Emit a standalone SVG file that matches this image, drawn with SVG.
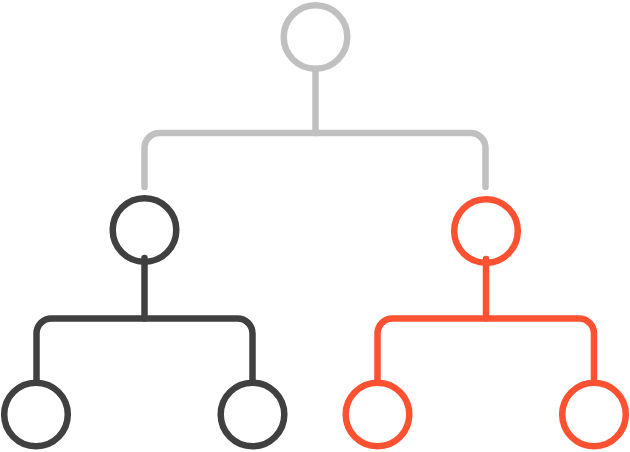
<svg xmlns="http://www.w3.org/2000/svg" width="630" height="452" viewBox="0 0 630 452">
<style>
.n{fill:none;stroke-width:6.5}
.c{fill:none;stroke-width:6.5;stroke-linecap:round;stroke-linejoin:round}
.g{stroke:#c0c0c0}
.d{stroke:#404040}
.o{stroke:#fe5131}
</style>
<rect width="630" height="452" fill="#fff"/>
<g id="connectors">
<path class="c g" d="M315.5,69 V133"/>
<path class="c g" d="M144.5,187 V148 A15,15 0 0 1 159.5,133 H470.5 A15,15 0 0 1 485.5,148 V187"/>
<path class="c d" d="M144.5,258 V318.5"/>
<path class="c d" d="M36.5,382 V333.5 A15,15 0 0 1 51.5,318.5 H237.5 A15,15 0 0 1 252.5,333.5 V382"/>
<path class="c o" d="M486,259 V318.5"/>
<path class="c o" d="M377.5,382 V333.5 A15,15 0 0 1 392.5,318.5 H579 A15,15 0 0 1 594,333.5 V382"/>
</g>
<g id="root"><circle class="n g" cx="315.5" cy="37" r="31.8"/></g>
<g id="left"><circle class="n d" cx="144.5" cy="230" r="31.8"/></g>
<g id="right"><circle class="n o" cx="486" cy="231" r="31.8"/></g>
<g id="left-left"><circle class="n d" cx="36" cy="414.5" r="31.8"/></g>
<g id="left-right"><circle class="n d" cx="252.5" cy="414.5" r="31.8"/></g>
<g id="right-left"><circle class="n o" cx="377.5" cy="414.5" r="31.8"/></g>
<g id="right-right"><circle class="n o" cx="594" cy="414.5" r="31.8"/></g>
</svg>
